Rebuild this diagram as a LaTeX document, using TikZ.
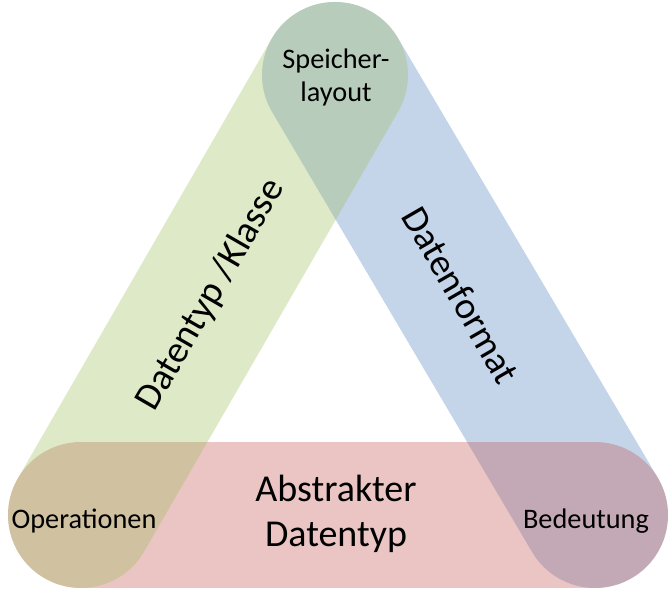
\documentclass[tikz,border=0pt]{standalone}
\usepackage{fontspec}
\setmainfont{Carlito}
\definecolor{grn}{HTML}{9BBB59}
\definecolor{blu}{HTML}{4F81BD}
\definecolor{rd}{HTML}{C0504D}
\begin{document}
\begin{tikzpicture}[x=1pt,y=1pt,
	band/.style = {line width=146pt, line cap=round, draw opacity=0.33},
	corner/.style = {font=\fontsize{28.3}{33}\selectfont, align=center},
	side/.style = {font=\fontsize{38}{45.5}\selectfont, align=center}]
	\useasboundingbox (0,0) rectangle (672,594);
	\coordinate (ops) at (81,79);
	\coordinate (mem) at (335,519);
	\coordinate (sem) at (595,79);
	\draw[band, draw=blu] (mem) -- (sem);
	\draw[band, draw=rd] (ops) -- (sem);
	\draw[band, draw=grn] (ops) -- (mem);
	\node[corner] (memtxt) at (336,517) {Speicher-\\layout};
	\node[corner] (opstxt) at (84,73) {Operationen};
	\node[corner] (semtxt) at (586,73) {Bedeutung};
	\node[side] (adt) at (336,80) {Abstrakter\\Datentyp};
	\node[side, rotate=60] (cls) at (211,299) {Datentyp /Klasse};
	\node[side, rotate=-60] (fmt) at (461,299) {Datenformat};
\end{tikzpicture}
\end{document}
